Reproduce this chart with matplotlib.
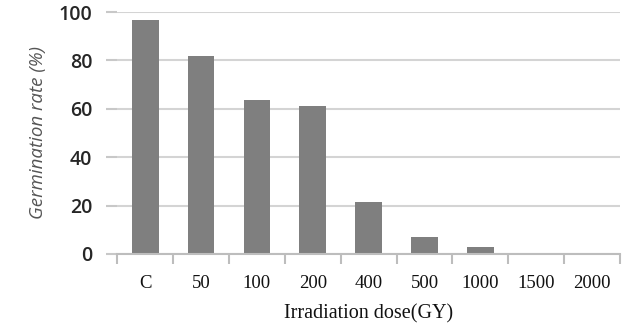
import matplotlib
matplotlib.use('Agg')
import matplotlib.pyplot as plt
import numpy as np

categories = ['C', '50', '100', '200', '400', '500', '1000', '1500', '2000']
germination = [96.5, 82, 63.5, 61, 21.5, 7, 3, 0, 0]
y_ticks = [0, 20, 40, 60, 80, 100]

fig = plt.figure(figsize=(6.27, 3.29), dpi=100)
ax = fig.add_axes([0.187, 0.228, 0.802, 0.7355])

x = np.arange(len(categories))
ax.bar(x, germination, width=0.48, color='#7f7f7f', zorder=3)

ax.set_xlim(-0.5, len(categories) - 0.5)
ax.set_ylim(0, 100)
ax.set_yticks(y_ticks)
ax.yaxis.grid(True, color='#d4d4d4', linewidth=1.5, zorder=0)
ax.tick_params(axis='y', length=8, color='#c8c8c8', width=1.5, pad=10,
               labelsize=14, labelcolor='#262626')
for lbl in ax.get_yticklabels():
    lbl.set_family('Open Sans')
    lbl.set_weight('semibold')

# category boundaries as ticks on the bottom axis
ax.set_xticks(np.arange(len(categories) + 1) - 0.5, minor=False)
ax.set_xticklabels([])
ax.set_xticks(x, minor=True)
ax.set_xticklabels(categories, minor=True, family='Liberation Serif',
                   fontsize=13.5, color='#111111')
ax.tick_params(axis='x', which='major', direction='out', length=7,
               color='#bdbdbd', width=1.5)
ax.tick_params(axis='x', which='minor', length=0, pad=15)

for side in ['top', 'right', 'left']:
    ax.spines[side].set_visible(False)
ax.spines['bottom'].set_color('#bdbdbd')
ax.spines['bottom'].set_linewidth(1.5)
ax.spines['bottom'].set_zorder(4)

ax.set_xlabel('Irradiation dose(GY)', family='Liberation Serif', fontsize=14.5,
              labelpad=9, color='#111111')
ax.set_ylabel('Germination rate (%)', family='Open Sans', style='italic',
              fontsize=13.5, color='#555555', labelpad=8)

fig.savefig('out.png', dpi=100)
